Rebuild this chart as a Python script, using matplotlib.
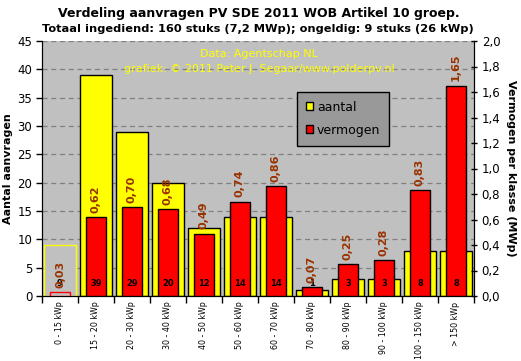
import matplotlib
matplotlib.use("Agg")
import matplotlib.pyplot as plt
from matplotlib.patches import Patch
import numpy as np

categories = ["0 - 15 kWp", "15 - 20 kWp", "20 - 30 kWp", "30 - 40 kWp", "40 - 50 kWp",
              "50 - 60 kWp", "60 - 70 kWp", "70 - 80 kWp", "80 - 90 kWp", "90 - 100 kWp",
              "100 - 150 kWp", "> 150 kWp"]
aantal = [9, 39, 29, 20, 12, 14, 14, 1, 3, 3, 8, 8]
vermogen = [0.03, 0.62, 0.70, 0.68, 0.49, 0.74, 0.86, 0.07, 0.25, 0.28, 0.83, 1.65]
vermogen_labels = ["0,03", "0,62", "0,70", "0,68", "0,49", "0,74", "0,86", "0,07", "0,25", "0,28", "0,83", "1,65"]
left_ticks = [0, 5, 10, 15, 20, 25, 30, 35, 40, 45]
right_ticks = [0.0, 0.2, 0.4, 0.6, 0.8, 1.0, 1.2, 1.4, 1.6, 1.8, 2.0]

W, H = 521, 361
fig = plt.figure(figsize=(W / 100, H / 100), dpi=100)
fig.patch.set_facecolor("white")
ax = fig.add_axes([42 / W, 1 - 296 / H, 432 / W, 255 / H])
ax.set_facecolor("#C0C0C0")
ax2 = ax.twinx()

x = np.arange(len(categories))
ycol = ["#C0C0C0"] + ["#FFFF00"] * (len(categories) - 1)
yedge = ["#FFFF00"] + ["black"] * (len(categories) - 1)
ax.bar(x, aantal, width=0.88, color=ycol, edgecolor=yedge, linewidth=1.0, zorder=2)
ax.set_xlim(-0.5, len(categories) - 0.5)
ax.set_ylim(0, 45)
ax.set_yticks(left_ticks)
ax.set_yticklabels([str(t) for t in left_ticks], fontsize=8.5)
ax.yaxis.grid(True, linestyle=(0, (4, 3)), color="#808080", linewidth=0.9)
ax.set_axisbelow(True)
ax.set_xticks(x)
ax.set_xticklabels(categories, rotation=90, fontsize=5.7)
ax.tick_params(axis="x", length=0, pad=4)
ax.set_xticks(np.arange(-0.5, len(categories) + 0.5, 1), minor=True)
ax.tick_params(axis="x", which="minor", length=5, width=1, direction="out")
ax.tick_params(axis="y", length=4, width=1, direction="out", pad=3)
ax.set_ylabel("Aantal aanvragen", fontsize=8, fontweight="bold", labelpad=3)

rcol = ["#C0C0C0"] + ["#FF0000"] * (len(categories) - 1)
redge = ["#FF0000"] + ["black"] * (len(categories) - 1)
ax2.bar(x, vermogen, width=0.55, color=rcol, edgecolor=redge, linewidth=1.0, zorder=3)
ax2.set_ylim(0, 2.0)
ax2.set_yticks(right_ticks)
ax2.set_yticklabels([f"{t:.1f}".replace(".", ",") for t in right_ticks], fontsize=8.5)
ax2.tick_params(axis="y", length=5, width=1, direction="inout", pad=3)
ax2.set_ylabel("Vermogen per klasse (MWp)", fontsize=8, fontweight="bold", rotation=-90, labelpad=11)
ax2.set_xlim(-0.5, len(categories) - 0.5)

for i, (a, v, lab) in enumerate(zip(aantal, vermogen, vermogen_labels)):
    ax2.annotate(str(a), xy=(i, 0), xytext=(0, 9), textcoords="offset points",
                 ha="center", va="center", fontsize=6, fontweight="bold", color="black", zorder=5)
    ax2.annotate(lab, xy=(i, v), xytext=(0, 3), textcoords="offset points",
                 ha="center", va="bottom", rotation=90, fontsize=8, fontweight="bold",
                 color="#993300", zorder=6)

for sp in ["top"]:
    ax.spines[sp].set_visible(False)
    ax2.spines[sp].set_visible(False)

handles = [Patch(facecolor="#FFFF00", edgecolor="black", label="aantal"),
           Patch(facecolor="#FF0000", edgecolor="black", label="vermogen")]
leg = ax2.legend(handles=handles, loc="upper left", bbox_to_anchor=(0.59, 0.80),
                 fontsize=9, frameon=True, fancybox=False, handlelength=0.6,
                 handleheight=0.6, handletextpad=0.3, labelspacing=0.8, borderpad=0.7,
                 borderaxespad=0)
leg.get_frame().set_facecolor("#999999")
leg.get_frame().set_edgecolor("black")
leg.get_frame().set_alpha(1)
leg.set_zorder(10)

fig.text(259 / W, 1 - 13 / H, "Verdeling aanvragen PV SDE 2011 WOB Artikel 10 groep.",
         ha="center", va="center", fontsize=9, fontweight="bold")
fig.text(258 / W, 1 - 29 / H, "Totaal ingediend: 160 stuks (7,2 MWp); ongeldig: 9 stuks (26 kWp)",
         ha="center", va="center", fontsize=8.2, fontweight="bold")
fig.text(259 / W, 1 - 54 / H, "Data: Agentschap NL", ha="center", va="center",
         fontsize=8, color="#FFFF00", zorder=1)
fig.text(259 / W, 1 - 69 / H, "grafiek: © 2011 Peter J. Segaar/www.polderpv.nl", ha="center",
         va="center", fontsize=8, color="#FFFF00", zorder=1)

fig.savefig("out.png", dpi=100, facecolor="white")
